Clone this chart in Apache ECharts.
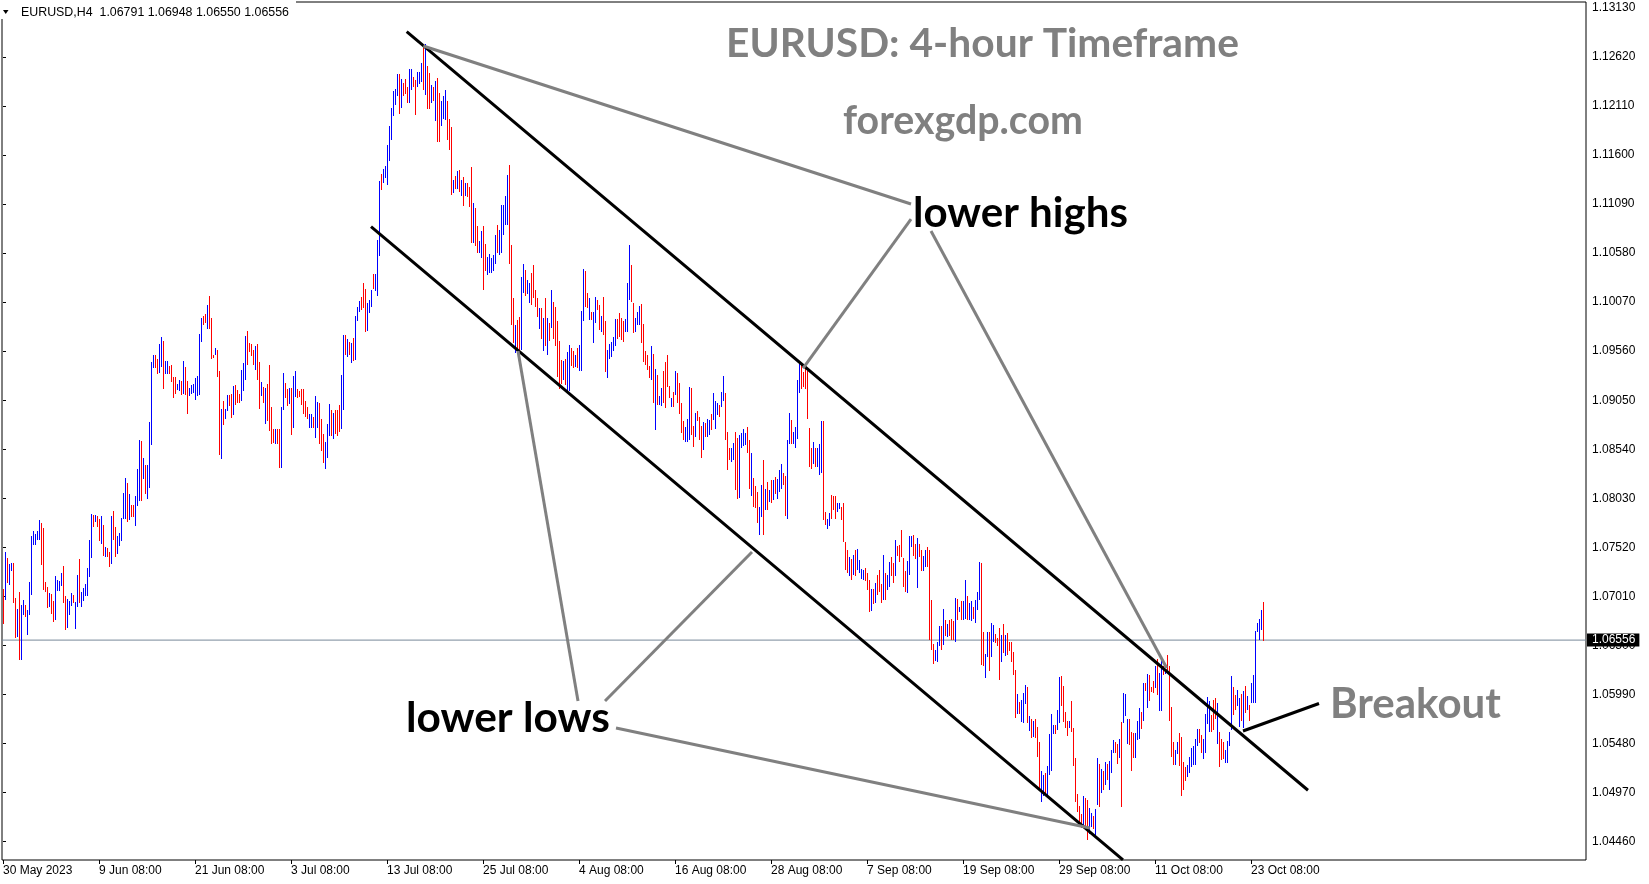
<!DOCTYPE html>
<html><head><meta charset="utf-8">
<script src="https://cdn.jsdelivr.net/npm/echarts@6/dist/echarts.min.js"></script>
<style>html,body{margin:0;padding:0;background:#fff}#c{width:1649px;height:884px}</style>
</head><body><div id="c"></div>
<script>
// ---- bar data (EURUSD H4), index 0 = first bar on chart ----
const highs = [
1.0709,1.0747,1.0741,1.0735,1.0736,1.0736,1.0699,1.0688,1.0706,1.0692,
1.0697,1.0692,1.0687,1.0716,1.0764,1.0769,1.0766,1.0769,1.0780,1.0777,
1.0772,1.0716,1.0711,1.0705,1.0704,1.0696,1.0722,1.0718,1.0717,1.0725,
1.0733,1.0701,1.0698,1.0696,1.0705,1.0702,1.0695,1.0723,1.0740,1.0706,
1.0710,1.0714,1.0731,1.0760,1.0787,1.0786,1.0786,1.0785,1.0782,1.0785,
1.0775,1.0752,1.0751,1.0747,1.0785,1.0790,1.0773,1.0764,1.0767,1.0783,
1.0809,1.0824,1.0819,1.0808,1.0796,1.0796,1.0805,1.0834,1.0864,1.0863,
1.0845,1.0838,1.0838,1.0882,1.0945,1.0952,1.0952,1.0948,1.0963,1.0971,
1.0967,1.0946,1.0946,1.0941,1.0942,1.0929,1.0929,1.0922,1.0926,1.0925,
1.0946,1.0940,1.0925,1.0918,1.0921,1.0922,1.0928,1.0930,1.0974,1.0991,
1.0993,1.0995,1.1004,1.1013,1.0990,1.0952,1.0959,1.0957,1.0935,1.0896,
1.0904,1.0896,1.0910,1.0910,1.0911,1.0920,1.0921,1.0916,1.0911,1.0936,
1.0944,1.0972,1.0977,1.0964,1.0963,1.0957,1.0961,1.0963,1.0945,1.0924,
1.0919,1.0918,1.0922,1.0942,1.0898,1.0875,1.0875,1.0875,1.0875,1.0898,
1.0933,1.0923,1.0917,1.0918,1.0918,1.0930,1.0935,1.0917,1.0915,1.0917,
1.0917,1.0904,1.0898,1.0891,1.0891,1.0888,1.0909,1.0903,1.0902,1.0885,
1.0870,1.0862,1.0880,1.0901,1.0895,1.0892,1.0895,1.0895,1.0900,1.0931,
1.0973,1.0973,1.0969,1.0966,1.0965,1.0970,1.0993,1.1002,1.1008,1.1012,
1.1027,1.1021,1.1006,1.1009,1.1020,1.1036,1.1036,1.1072,1.1133,1.1140,
1.1145,1.1149,1.1170,1.1190,1.1209,1.1227,1.1229,1.1244,1.1244,1.1239,
1.1235,1.1239,1.1231,1.1249,1.1249,1.1241,1.1238,1.1246,1.1246,1.1256,
1.1273,1.1275,1.1253,1.1245,1.1233,1.1231,1.1237,1.1240,1.1224,1.1216,
1.1221,1.1228,1.1216,1.1197,1.1189,1.1134,1.1138,1.1143,1.1144,1.1134,
1.1137,1.1131,1.1131,1.1127,1.1147,1.1110,1.1105,1.1086,1.1071,1.1081,
1.1086,1.1067,1.1054,1.1057,1.1053,1.1056,1.1077,1.1087,1.1082,1.1108,
1.1108,1.1117,1.1139,1.1150,1.1066,1.1011,1.0983,1.0988,1.0992,1.1033,
1.1047,1.1040,1.1030,1.1027,1.1037,1.1046,1.1020,1.1011,1.1001,1.1001,
1.0990,1.1011,1.0990,1.0985,1.1020,1.1007,1.1002,1.0987,1.0967,1.0947,
1.0946,1.0948,1.0955,1.0962,1.0959,1.0956,1.0952,1.0959,1.0962,1.0998,
1.1041,1.1039,1.1017,1.1011,1.0997,1.0997,1.1012,1.1009,1.1004,1.0993,
1.1012,1.0987,1.0957,1.0963,1.0966,1.0971,1.0989,1.0989,1.0996,1.0991,
1.0987,1.0989,1.1027,1.1066,1.1046,1.1006,1.0990,1.0997,1.1003,1.1005,
1.0984,1.0956,1.0952,1.0941,1.0961,1.0953,1.0937,1.0931,1.0909,1.0918,
1.0935,1.0945,1.0952,1.0920,1.0907,1.0914,1.0935,1.0933,1.0923,1.0902,
1.0883,1.0877,1.0886,1.0919,1.0918,1.0878,1.0892,1.0894,1.0888,1.0878,
1.0882,1.0881,1.0885,1.0884,1.0891,1.0913,1.0904,1.0902,1.0900,1.0914,
1.0930,1.0913,1.0872,1.0855,1.0855,1.0861,1.0872,1.0866,1.0869,1.0871,
1.0875,1.0871,1.0877,1.0864,1.0850,1.0824,1.0816,1.0810,1.0794,1.0817,
1.0843,1.0813,1.0820,1.0812,1.0822,1.0822,1.0825,1.0823,1.0832,1.0839,
1.0829,1.0826,1.0864,1.0892,1.0884,1.0872,1.0877,1.0926,1.0943,1.0942,
1.0934,1.0938,1.0935,1.0876,1.0855,1.0862,1.0855,1.0855,1.0859,1.0883,
1.0883,1.0789,1.0782,1.0788,1.0806,1.0805,1.0805,1.0798,1.0798,1.0794,
1.0798,1.0758,1.0749,1.0742,1.0740,1.0744,1.0749,1.0750,1.0739,1.0730,
1.0728,1.0731,1.0725,1.0718,1.0709,1.0709,1.0715,1.0723,1.0729,1.0714,
1.0744,1.0725,1.0723,1.0737,1.0742,1.0736,1.0760,1.0753,1.0754,1.0770,
1.0741,1.0727,1.0738,1.0764,1.0764,1.0765,1.0756,1.0762,1.0756,1.0749,
1.0743,1.0749,1.0752,1.0749,1.0697,1.0652,1.0645,1.0654,1.0670,1.0670,
1.0688,1.0676,1.0672,1.0676,1.0678,1.0675,1.0699,1.0698,1.0690,1.0696,
1.0696,1.0718,1.0701,1.0694,1.0696,1.0690,1.0697,1.0706,1.0737,1.0736,
1.0664,1.0641,1.0664,1.0664,1.0673,1.0671,1.0662,1.0658,1.0668,1.0661,
1.0672,1.0661,1.0663,1.0654,1.0654,1.0643,1.0624,1.0600,1.0591,1.0593,
1.0601,1.0609,1.0607,1.0577,1.0574,1.0571,1.0574,1.0565,1.0550,1.0519,
1.0515,1.0517,1.0525,1.0558,1.0579,1.0567,1.0567,1.0583,1.0617,1.0618,
1.0608,1.0581,1.0571,1.0571,1.0592,1.0564,1.0533,1.0496,1.0483,1.0475,
1.0493,1.0491,1.0489,1.0481,1.0476,1.0473,1.0480,1.0533,1.0527,1.0522,
1.0519,1.0529,1.0527,1.0530,1.0541,1.0552,1.0550,1.0548,1.0553,1.0570,
1.0601,1.0600,1.0574,1.0574,1.0560,1.0559,1.0559,1.0572,1.0585,1.0581,
1.0611,1.0611,1.0620,1.0619,1.0607,1.0613,1.0629,1.0636,1.0621,1.0635,
1.0629,1.0626,1.0640,1.0629,1.0586,1.0550,1.0541,1.0550,1.0559,1.0555,
1.0529,1.0524,1.0526,1.0534,1.0543,1.0546,1.0553,1.0563,1.0563,1.0557,
1.0553,1.0579,1.0596,1.0592,1.0578,1.0593,1.0595,1.0590,1.0560,1.0553,
1.0550,1.0541,1.0551,1.0560,1.0618,1.0607,1.0599,1.0604,1.0595,1.0600,
1.0603,1.0608,1.0597,1.0588,1.0611,1.0619,1.0665,1.0673,1.0678,1.0687,
1.06948];
const lows = [
1.0672,1.0697,1.0715,1.0713,1.0727,1.0694,1.0658,1.0659,1.0635,1.0635,
1.0682,1.0680,1.0661,1.0682,1.0703,1.0755,1.0755,1.0760,1.0760,1.0734,
1.0708,1.0706,1.0689,1.0690,1.0683,1.0674,1.0676,1.0707,1.0707,1.0712,
1.0694,1.0666,1.0668,1.0682,1.0691,1.0694,1.0667,1.0690,1.0694,1.0690,
1.0696,1.0701,1.0701,1.0721,1.0741,1.0773,1.0778,1.0773,1.0759,1.0756,
1.0743,1.0742,1.0742,1.0732,1.0735,1.0760,1.0742,1.0745,1.0753,1.0759,
1.0781,1.0781,1.0778,1.0780,1.0784,1.0784,1.0774,1.0795,1.0800,1.0800,
1.0823,1.0808,1.0802,1.0814,1.0858,1.0939,1.0939,1.0932,1.0933,1.0940,
1.0917,1.0932,1.0932,1.0932,1.0924,1.0907,1.0911,1.0916,1.0915,1.0910,
1.0911,1.0910,1.0891,1.0909,1.0912,1.0913,1.0905,1.0909,1.0910,1.0966,
1.0983,1.0985,1.0979,1.0979,1.0948,1.0949,1.0952,1.0929,1.0848,1.0844,
1.0879,1.0885,1.0894,1.0899,1.0887,1.0890,1.0900,1.0902,1.0902,1.0904,
1.0915,1.0926,1.0942,1.0955,1.0951,1.0942,1.0936,1.0926,1.0896,1.0909,
1.0902,1.0880,1.0883,1.0873,1.0860,1.0861,1.0860,1.0860,1.0835,1.0835,
1.0895,1.0907,1.0899,1.0901,1.0869,1.0876,1.0908,1.0907,1.0908,1.0900,
1.0891,1.0888,1.0885,1.0876,1.0876,1.0876,1.0866,1.0876,1.0859,1.0852,
1.0840,1.0834,1.0845,1.0868,1.0868,1.0865,1.0870,1.0868,1.0872,1.0875,
1.0895,1.0952,1.0950,1.0952,1.0944,1.0946,1.0947,1.0987,1.0997,1.0999,
1.1001,1.0976,1.0977,1.0996,1.1002,1.1021,1.1019,1.1013,1.1055,1.1124,
1.1131,1.1136,1.1129,1.1154,1.1176,1.1201,1.1212,1.1221,1.1203,1.1209,
1.1221,1.1223,1.1214,1.1214,1.1228,1.1231,1.1202,1.1231,1.1234,1.1236,
1.1228,1.1222,1.1208,1.1208,1.1214,1.1216,1.1195,1.1173,1.1173,1.1190,
1.1197,1.1196,1.1176,1.1165,1.1118,1.1120,1.1125,1.1125,1.1121,1.1117,
1.1107,1.1117,1.1116,1.1106,1.1068,1.1068,1.1065,1.1058,1.1058,1.1053,
1.1020,1.1039,1.1035,1.1037,1.1037,1.1039,1.1047,1.1058,1.1056,1.1058,
1.1077,1.1087,1.1087,1.1047,1.0983,1.0965,1.0954,1.0956,1.0947,1.0957,
1.1016,1.1013,1.1015,1.1006,1.1004,1.1011,1.1002,1.0992,1.0979,1.0969,
1.0956,1.0961,1.0952,1.0967,1.0980,1.0969,1.0961,1.0929,1.0917,1.0922,
1.0926,1.0921,1.0915,1.0915,1.0941,1.0938,1.0940,1.0938,1.0935,1.0935,
1.0987,1.1002,1.1001,1.0988,1.0988,1.0964,1.0985,1.0999,1.0978,1.0976,
1.0973,1.0934,1.0928,1.0948,1.0950,1.0956,1.0961,1.0969,1.0971,1.0968,
1.0966,1.0976,1.0976,1.1009,1.1007,1.0975,1.0976,1.0983,1.0983,1.0965,
1.0945,1.0942,1.0936,1.0928,1.0926,1.0902,1.0874,1.0900,1.0900,1.0899,
1.0902,1.0897,1.0919,1.0907,1.0898,1.0898,1.0910,1.0902,1.0891,1.0871,
1.0864,1.0862,1.0862,1.0864,1.0869,1.0856,1.0867,1.0883,1.0864,1.0845,
1.0853,1.0867,1.0867,1.0869,1.0874,1.0884,1.0875,1.0890,1.0888,1.0898,
1.0904,1.0864,1.0832,1.0843,1.0841,1.0843,1.0812,1.0802,1.0803,1.0855,
1.0857,1.0858,1.0850,1.0813,1.0805,1.0794,1.0793,1.0777,1.0765,1.0784,
1.0765,1.0791,1.0791,1.0799,1.0798,1.0801,1.0808,1.0802,1.0810,1.0813,
1.0817,1.0785,1.0782,1.0860,1.0860,1.0860,1.0855,1.0865,1.0913,1.0917,
1.0919,1.0917,1.0885,1.0836,1.0834,1.0839,1.0836,1.0836,1.0827,1.0829,
1.0780,1.0775,1.0771,1.0774,1.0782,1.0791,1.0782,1.0789,1.0792,1.0780,
1.0758,1.0729,1.0725,1.0722,1.0718,1.0723,1.0722,1.0729,1.0725,1.0719,
1.0718,1.0717,1.0708,1.0685,1.0686,1.0693,1.0694,1.0703,1.0706,1.0694,
1.0697,1.0697,1.0708,1.0711,1.0722,1.0715,1.0722,1.0743,1.0737,1.0742,
1.0711,1.0706,1.0705,1.0723,1.0752,1.0743,1.0740,1.0710,1.0742,1.0727,
1.0727,1.0732,1.0732,1.0656,1.0645,1.0631,1.0634,1.0633,1.0649,1.0645,
1.0650,1.0660,1.0659,1.0660,1.0656,1.0656,1.0654,1.0676,1.0685,1.0676,
1.0676,1.0678,1.0676,1.0676,1.0675,1.0678,1.0673,1.0687,1.0697,1.0630,
1.0629,1.0616,1.0638,1.0623,1.0638,1.0654,1.0653,1.0649,1.0614,1.0633,
1.0642,1.0639,1.0640,1.0644,1.0633,1.0619,1.0575,1.0579,1.0579,1.0570,
1.0569,1.0589,1.0569,1.0561,1.0554,1.0555,1.0554,1.0534,1.0500,1.0487,
1.0494,1.0495,1.0493,1.0515,1.0519,1.0558,1.0558,1.0562,1.0569,1.0587,
1.0570,1.0564,1.0556,1.0564,1.0560,1.0525,1.0487,1.0477,1.0465,1.0460,
1.0461,1.0460,1.0448,1.0454,1.0461,1.0459,1.0453,1.0484,1.0482,1.0497,
1.0500,1.0505,1.0510,1.0500,1.0517,1.0538,1.0538,1.0527,1.0533,1.0482,
1.0569,1.0577,1.0548,1.0547,1.0519,1.0533,1.0533,1.0552,1.0553,1.0563,
1.0572,1.0603,1.0585,1.0592,1.0602,1.0601,1.0606,1.0599,1.0582,1.0582,
1.0619,1.0620,1.0624,1.0572,1.0534,1.0526,1.0526,1.0537,1.0525,1.0494,
1.0500,1.0509,1.0513,1.0517,1.0524,1.0526,1.0526,1.0545,1.0549,1.0538,
1.0532,1.0538,1.0568,1.0560,1.0560,1.0562,1.0574,1.0548,1.0524,1.0531,
1.0532,1.0528,1.0528,1.0545,1.0562,1.0578,1.0583,1.0587,1.0565,1.0571,
1.0564,1.0580,1.0583,1.0572,1.0590,1.0590,1.0590,1.0664,1.0656,1.0666,
1.06550];
// 1 = bullish bar (blue), 0 = bearish bar (red)
const upBar = [
0,1,0,1,1,0,0,1,0,1, 1,0,1,1,1,1,1,1,1,0, 0,0,0,1,0,0,1,1,1,1, 0,0,1,1,1,0,1,1,0,1,
1,1,1,1,1,0,1,0,0,1, 0,1,0,0,1,0,0,1,1,1, 1,1,0,1,0,0,1,1,1,0, 1,0,1,1,1,1,0,0,1,1,
0,1,1,0,0,0,0,1,1,0, 1,0,0,1,1,1,1,1,1,1, 0,0,1,0,0,0,1,0,0,1, 0,1,1,0,0,1,0,0,0,1,
1,1,0,0,0,0,1,0,0,1, 0,1,0,0,0,0,1,0,0,1, 1,0,0,1,0,1,1,0,0,0, 0,0,0,1,1,0,1,1,0,0,
0,1,1,1,0,1,0,0,0,1, 1,0,1,0,1,0,1,1,1,0, 0,0,1,1,1,0,1,1,1,0, 1,1,1,1,1,1,1,1,0,1,
0,0,0,1,1,0,0,1,1,1, 0,1,0,0,1,0,1,0,0,1, 1,1,0,0,0,1,0,1,0,1, 0,1,0,0,0,1,0,0,1,1,
0,0,1,1,1,1,1,0,1,1, 1,1,1,0,0,0,1,0,0,1, 1,0,1,1,0,0,0,0,1,0, 1,0,1,0,1,0,0,0,0,0,
1,0,1,1,0,0,1,0,1,1, 1,0,0,1,0,1,1,0,0,1, 0,0,1,1,1,1,1,0,0,0, 0,1,1,1,0,0,1,1,1,0,
0,0,0,0,1,0,1,0,1,1, 0,0,0,0,1,0,1,0,0,0, 0,1,1,1,0,0,1,0,0,0, 1,0,1,1,0,1,1,1,0,1,
1,0,0,0,1,1,0,0,1,1, 1,1,0,0,1,0,0,0,1,1, 0,1,0,1,0,1,0,1,1,1, 0,0,1,1,0,1,1,1,1,0,
0,0,0,0,0,1,0,1,1,1, 0,0,1,1,0,0,0,1,1,0, 0,0,0,1,0,1,0,1,1,1, 1,0,0,0,1,0,1,0,0,0,
1,0,1,1,0,0,1,0,0,0, 0,0,1,1,1,0,0,1,0,0, 1,1,0,0,0,0,1,1,1,0, 1,0,1,0,0,0,1,0,1,0,
1,1,0,1,1,0,1,1,1,0, 0,1,1,0,1,1,0,0,0,1, 0,1,0,0,0,0,0,1,0,1, 1,1,0,1,0,1,0,0,0,1,
1,0,1,1,1,1,0,1,1,0, 0,0,0,1,0,0,0,0,0,0, 1,0,0,1,1,0,1,1,0,1, 0,1,0,1,1,1,0,0,1,0,
1,1,1,0,0,0,1,1,1,0, 1,0,1,0,0,0,1,0,1,1, 0,1,0,0,0,0,1,1,0,0, 0,0,1,1,1,1,1,1,0,0,
1,1,1,1,0,0,0,1,0,0, 0,1,1,1,1,0,0,1,1,0, 1,0,1,0,1,1,1,1,1,1, 0];

const xTickBars   = [0,48,96,144,192,240,288,336,384,432,480,528,576,624];
const xTickLabels = ['30 May 2023','9 Jun 08:00','21 Jun 08:00','3 Jul 08:00','13 Jul 08:00','25 Jul 08:00',
  '4 Aug 08:00','16 Aug 08:00','28 Aug 08:00','7 Sep 08:00','19 Sep 08:00','29 Sep 08:00','11 Oct 08:00','23 Oct 08:00'];
const yTickLabels = ['1.04460','1.04970','1.05480','1.05990','1.06500','1.07010','1.07520','1.08030','1.08540',
  '1.09050','1.09560','1.10070','1.10580','1.11090','1.11600','1.12110','1.12620','1.13130'];
const lastPrice = 1.06556;
const headerText = 'EURUSD,H4  1.06791 1.06948 1.06550 1.06556';

// annotation lines: [barIndex, price] end points
const upperChannel = [[201.85, 1.12882], [652.5, 1.04995]];
const lowerChannel = [[184, 1.10854], [560, 1.04270]];
const highsPointer1 = [[210.15, 1.12733], [454, 1.11090]];
const highsPointer2 = [[400, 1.09380], [454, 1.10934]];
const highsPointer3 = [[464, 1.10809], [581.85, 1.06266]];
const lowsPointer1 = [[257.5, 1.09562], [287.5, 1.05923]];
const lowsPointer2 = [[301, 1.05923], [374.5, 1.07472]];
const lowsPointer3 = [[306.5, 1.05642], [543.5, 1.04602]];
const breakoutPointer = [[620, 1.05611], [658, 1.05897]];

const upColor = '#0000ff', downColor = '#ff0000';
const GRID = {left: 2, right: 63, top: 2, bottom: 24};
const xMin = -0.5, xMax = 791.5;
const yMin = 1.0426973, yMax = 1.1319053;

const chart = echarts.init(document.getElementById('c'), null, {renderer: 'canvas'});

const ctx = document.createElement('canvas').getContext('2d');
function fit(text, weight, family, width) {
  ctx.font = weight + ' 100px ' + family;
  return 100 * width / ctx.measureText(text).width;
}
const TF = 'Lato';
function label(text, x, y, width, color) {
  const fs = fit(text, 'bold', TF, width);
  return {type: 'text', z: 50, silent: true,
    style: {text, x, y, fill: color, fontFamily: TF, fontWeight: 'bold', fontSize: fs,
      align: 'left', verticalAlign: 'middle'}};
}

function lineSeries(pts, color, width) {
  return {type: 'line', data: pts, symbol: 'none', silent: true, animation: false, z: 5,
    lineStyle: {color, width}, clip: true};
}

const option = {
  animation: false,
  backgroundColor: '#fff',
  grid: Object.assign({show: true, borderColor: '#000', borderWidth: 1, backgroundColor: '#fff'}, GRID),
  xAxis: {
    type: 'value', min: xMin, max: xMax,
    axisLine: {show: false}, splitLine: {show: false},
    axisTick: {show: true, customValues: xTickBars, length: 4, lineStyle: {color: '#000'}},
    axisLabel: {customValues: xTickBars, formatter: v => xTickLabels[xTickBars.indexOf(Math.round(v))] || '',
      align: 'left', margin: 5, fontSize: 12, color: '#000', fontFamily: 'Liberation Sans'}
  },
  yAxis: {
    type: 'value', position: 'right', min: yMin, max: yMax,
    axisLine: {show: false}, splitLine: {show: false},
    axisTick: {show: true, customValues: yTickLabels.map(Number), length: 3, lineStyle: {color: '#000'}},
    axisLabel: {customValues: yTickLabels.map(Number), formatter: v => v.toFixed(5),
      margin: 6, fontSize: 12, color: '#000', fontFamily: 'Liberation Sans', padding: [3, 0, 0, 0]}
  },
  series: [
    {
      type: 'custom', z: 3, animation: false, silent: true,
      data: highs.map((h, i) => [i, h, lows[i], upBar[i]]),
      encode: {x: 0, y: [1, 2]},
      renderItem: (params, api) => {
        const i = api.value(0);
        const top = api.coord([i, api.value(1)]);
        const bot = api.coord([i, api.value(2)]);
        const y0 = Math.round(top[1]), y1 = Math.round(bot[1]);
        return {type: 'rect', shape: {x: Math.round(top[0] - 0.5), y: y0, width: 1, height: Math.max(1, y1 - y0)},
          style: {fill: api.value(3) ? upColor : downColor}};
      }
    },
    {
      type: 'line', z: 2, silent: true, animation: false, symbol: 'none', clip: true,
      data: [[xMin, lastPrice], [xMax, lastPrice]],
      lineStyle: {color: '#778899', width: 1},
      endLabel: {show: true, formatter: () => lastPrice.toFixed(5), backgroundColor: '#000', color: '#fff',
        fontSize: 12, fontFamily: 'Liberation Sans', padding: [1, 4, 0, 5], distance: 1}
    },
    lineSeries(upperChannel, '#000', 3),
    lineSeries(lowerChannel, '#000', 3),
    lineSeries(highsPointer1, '#808080', 3),
    lineSeries(highsPointer2, '#808080', 3),
    lineSeries(highsPointer3, '#808080', 3),
    lineSeries(lowsPointer1, '#808080', 3),
    lineSeries(lowsPointer2, '#808080', 3),
    lineSeries(lowsPointer3, '#808080', 3),
    lineSeries(breakoutPointer, '#000', 3)
  ],
  graphic: [
    {type: 'rect', z: 40, silent: true, shape: {x: 0, y: 0, width: 296, height: 19}, style: {fill: '#fff'}},
    {type: 'polygon', z: 41, silent: true, shape: {points: [[3, 10], [8.5, 10], [5.75, 14]]}, style: {fill: '#000'}},
    {type: 'text', z: 41, silent: true, style: {text: headerText, x: 21, y: 12.5, fill: '#000',
      fontFamily: 'Liberation Sans', fontSize: 12.4, verticalAlign: 'middle'}},
    label('EURUSD: 4-hour Timeframe', 726, 44, 513, '#808080'),
    label('forexgdp.com', 843, 121, 240, '#808080'),
    label('lower highs', 913, 213, 215, '#000'),
    label('lower lows', 406, 718, 204, '#000'),
    label('Breakout', 1330, 704, 171, '#808080')
  ]
};
chart.setOption(option);
</script>
</body></html>
